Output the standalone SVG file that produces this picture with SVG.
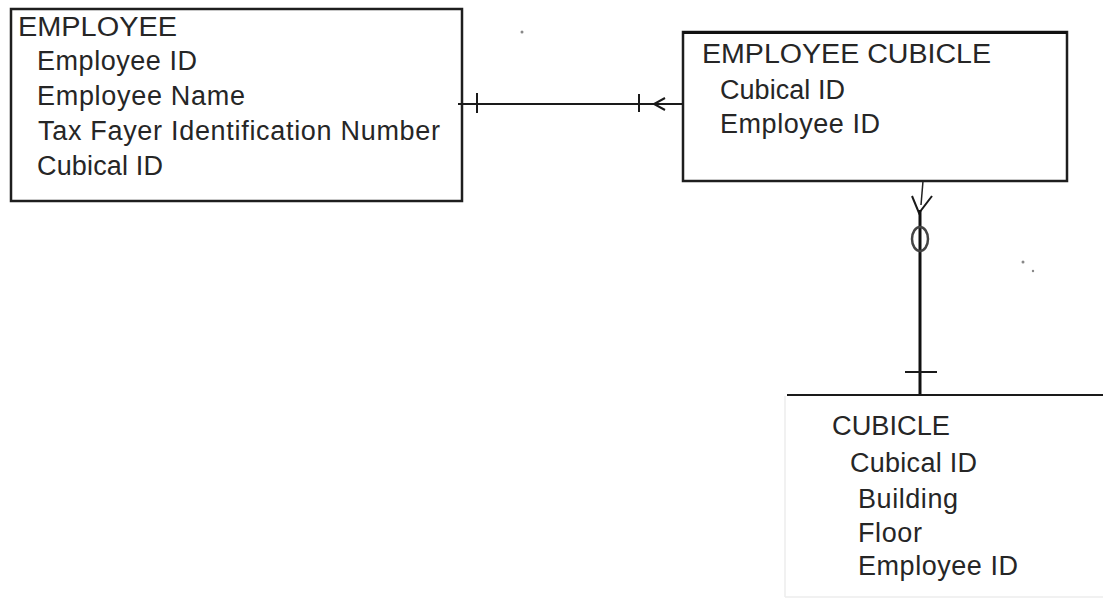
<svg xmlns="http://www.w3.org/2000/svg" width="1103" height="600" viewBox="0 0 1103 600">
<style>
.box{fill:#fff;stroke:#1e1e1e;stroke-width:2.5}
.t{font-family:"Liberation Sans",Arial,sans-serif;font-size:27px;fill:#262626}
.ln{fill:none;stroke:#1a1a1a;stroke-width:2}
.thick{fill:none;stroke:#111;stroke-width:3}
.faint{fill:none;stroke:#ececec;stroke-width:1.5}
</style>
<rect width="1103" height="600" fill="#fff"/>
<g id="employee">
<rect class="box" x="11" y="9" width="451" height="192"/>
<text class="t" x="18" y="36" textLength="159" lengthAdjust="spacingAndGlyphs">EMPLOYEE</text>
<text class="t" x="37" y="70" textLength="160" lengthAdjust="spacing">Employee ID</text>
<text class="t" x="37" y="105" textLength="208" lengthAdjust="spacing">Employee Name</text>
<text class="t" x="38" y="140" textLength="402" lengthAdjust="spacing">Tax Fayer Identification Number</text>
<text class="t" x="37" y="175" textLength="126" lengthAdjust="spacing">Cubical ID</text>
</g>
<g id="employee-cubicle">
<rect class="box" x="683" y="32" width="384" height="149"/>
<line x1="683" y1="32.5" x2="1067" y2="32.5" stroke="#111" stroke-width="3"/>
<text class="t" x="702" y="63" textLength="289" lengthAdjust="spacingAndGlyphs">EMPLOYEE CUBICLE</text>
<text class="t" x="720" y="99" textLength="125" lengthAdjust="spacing">Cubical ID</text>
<text class="t" x="720" y="133" textLength="160" lengthAdjust="spacing">Employee ID</text>
</g>
<g id="cubicle">
<line class="faint" x1="785" y1="396" x2="785" y2="597"/>
<line class="faint" x1="785" y1="597" x2="1103" y2="597"/>
<line x1="787" y1="395" x2="1103" y2="395" stroke="#1a1a1a" stroke-width="2"/>
<text class="t" x="832" y="435" textLength="118" lengthAdjust="spacingAndGlyphs">CUBICLE</text>
<text class="t" x="850" y="472" textLength="127" lengthAdjust="spacing">Cubical ID</text>
<text class="t" x="858" y="508" textLength="100" lengthAdjust="spacing">Building</text>
<text class="t" x="858" y="542" textLength="64" lengthAdjust="spacing">Floor</text>
<text class="t" x="858" y="575" textLength="160" lengthAdjust="spacing">Employee ID</text>
</g>
<g id="connectors">
<line class="ln" x1="458" y1="104" x2="683" y2="104"/>
<line class="ln" x1="477" y1="93" x2="477" y2="113"/>
<line class="ln" x1="639" y1="94" x2="639" y2="112"/>
<polyline class="ln" points="665,98 654,104 665,110" stroke-width="3"/>
<line x1="923" y1="181" x2="921" y2="205" stroke="#222" stroke-width="1.5"/>
<polyline class="ln" points="912,196 919,213 932,196" stroke-width="2.5"/>
<line class="thick" x1="920" y1="210" x2="920" y2="394"/>
<ellipse cx="920" cy="239" rx="8" ry="12" fill="none" stroke="#444" stroke-width="2.5"/>
<line class="ln" x1="905" y1="372" x2="937" y2="372"/>
</g>
<g id="specks" fill="#888">
<circle cx="522" cy="32" r="1.5"/>
<circle cx="1023" cy="262" r="1.5"/>
<circle cx="1033" cy="271" r="1.2"/>
</g>
</svg>
